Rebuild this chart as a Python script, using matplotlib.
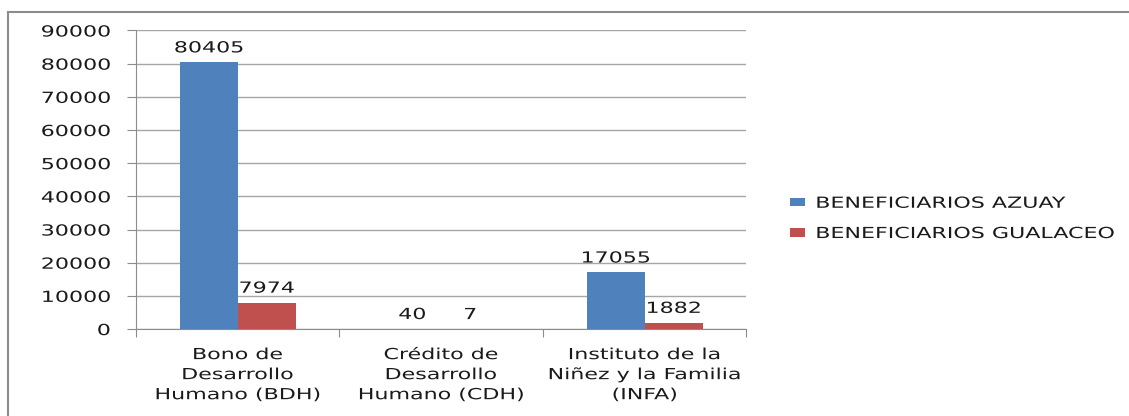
import numpy as np
import matplotlib
matplotlib.use('Agg')
import matplotlib.pyplot as plt
from matplotlib.lines import Line2D
from matplotlib.transforms import Affine2D
from matplotlib import patheffects

categorias = ['Bono de\nDesarrollo\nHumano (BDH)',
              'Crédito de\nDesarrollo\nHumano (CDH)',
              'Instituto de la\nNiñez y la Familia\n(INFA)']
azuay = [80405, 40, 17055]
gualaceo = [7974, 7, 1882]
series = ['BENEFICIARIOS AZUAY', 'BENEFICIARIOS GUALACEO']
yticks = list(range(0, 90001, 10000))


# el texto del original esta estirado a lo ancho
class Stretch(patheffects.AbstractPathEffect):
    def __init__(self, sx, anchor='center'):
        super().__init__()
        self.sx = sx
        self.anchor = anchor

    def draw_path(self, renderer, gc, tpath, affine, rgbFace=None):
        ext = tpath.get_extents(affine)
        if self.anchor == 'right':
            cx = ext.x1
        elif self.anchor == 'left':
            cx = ext.x0
        else:
            cx = (ext.x0 + ext.x1) / 2
        t = affine + Affine2D().translate(-cx, 0).scale(self.sx, 1).translate(cx, 0)
        renderer.draw_path(gc, tpath, t, rgbFace)


SX = 1.45
fs = 11
tc = '#1a1a1a'

fig = plt.figure(figsize=(11.29, 4.16), dpi=100)
ax = fig.add_axes([0.1205, 0.209, 0.5405, 0.7177])

x = np.arange(len(categorias))
w = 0.285
b1 = ax.bar(x - w / 2, azuay, w, color='#4F81BD', label=series[0], zorder=3)
b2 = ax.bar(x + w / 2, gualaceo, w, color='#C0504D', label=series[1], zorder=3)

for bars in (b1, b2):
    for r in bars:
        v = r.get_height()
        ax.annotate(f'{int(v)}', (r.get_x() + r.get_width() / 2, v),
                    xytext=(0, 5), textcoords='offset points',
                    ha='center', va='bottom', fontsize=fs, color=tc,
                    path_effects=[Stretch(SX)])

ax.set_xlim(-0.5, 2.5)
ax.set_ylim(0, 90000)
ax.set_yticks(yticks)
ax.set_yticklabels([str(t) for t in yticks], fontsize=fs, color=tc)
for t in ax.get_yticklabels():
    t.set_path_effects([Stretch(SX, 'right')])
ax.tick_params(axis='y', length=6.5, color='#8c8c8c', pad=12)

ax.set_xticks([-0.5, 0.5, 1.5, 2.5])
ax.set_xticklabels([])
ax.tick_params(axis='x', which='major', length=6, color='#8c8c8c')
ax.set_xticks(x, minor=True)
ax.set_xticklabels(categorias, minor=True, fontsize=fs, color=tc,
                   linespacing=1.42)
for t in ax.get_xticklabels(minor=True):
    t.set_path_effects([Stretch(SX)])
ax.tick_params(axis='x', which='minor', length=0, pad=13)

ax.grid(axis='y', color='#a6a6a6', linewidth=1, zorder=0)
for s in ('top', 'right'):
    ax.spines[s].set_visible(False)
for s in ('left', 'bottom'):
    ax.spines[s].set_color('#8c8c8c')

leg = fig.legend(handles=[b1, b2], labels=series, loc='center left',
                 bbox_to_anchor=(0.6875, 0.475), frameon=False, fontsize=fs,
                 handlelength=1.0, handleheight=0.45, handletextpad=0.7,
                 labelspacing=1.0)
for t in leg.get_texts():
    t.set_color(tc)
    t.set_path_effects([Stretch(SX, 'left')])

# marco exterior
fig.add_artist(Line2D([0.0075, 0.0075], [0.0, 0.971], transform=fig.transFigure,
                      color='#8c8c8c', linewidth=1.5))
fig.add_artist(Line2D([0.0075, 1.0], [0.971, 0.971], transform=fig.transFigure,
                      color='#8c8c8c', linewidth=1.5))

fig.savefig('out.png', dpi=100)
